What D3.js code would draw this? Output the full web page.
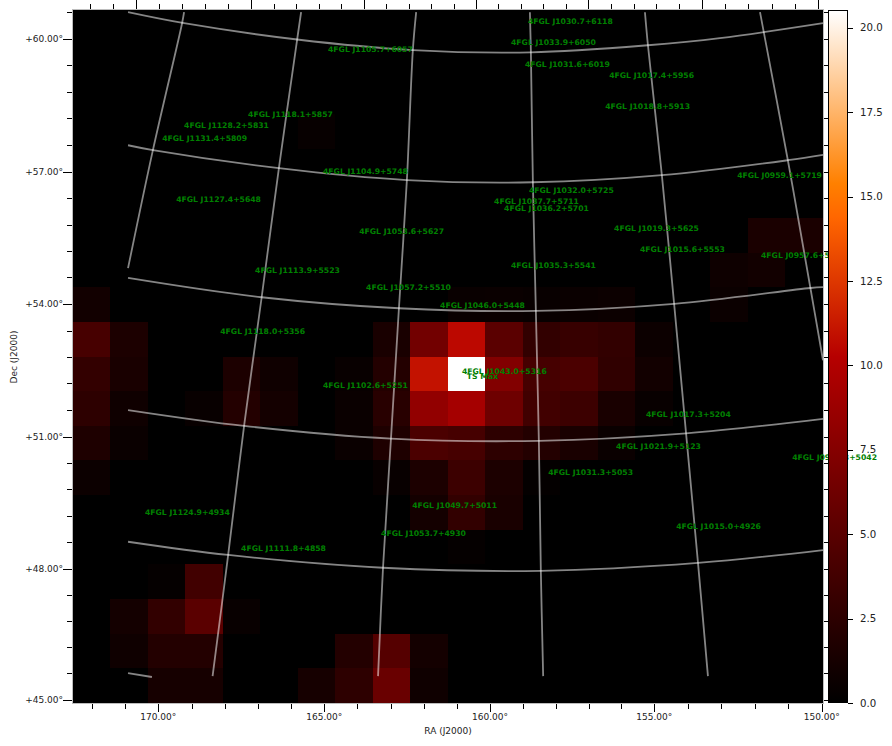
<!DOCTYPE html>
<html>
<head>
<meta charset="utf-8">
<script src="https://cdn.jsdelivr.net/npm/d3@7"></script>
<style>
html,body{margin:0;padding:0;background:#fff;}
svg{display:block;font-family:"DejaVu Sans",sans-serif;}
</style>
</head>
<body>
<div id="chart"></div>
<script>
// TS map, 20 x 20 pixels, listed top row first
const tsRows = [
 [0,0,0,0,0,0,0,0,0,0,0,0,0,0,0,0,0,0,0,0],
 [0,0,0,0,0,0,0,0,0,0,0,0,0,0,0,0,0,0,0,0],
 [0,0,0,0,0,0,0,0,0,0,0,0,0,0,0,0,0,0,0,0],
 [0,0,0,0,0,0,0.4,0,0,0,0,0,0,0,0,0,0,0,0,0],
 [0,0,0,0,0,0,0,0,0,0,0,0,0,0,0,0,0,0,0,0],
 [0,0,0,0,0,0,0,0,0,0,0,0,0,0,0,0,0,0,0,0],
 [0,0,0,0,0,0,0,0,0,0,0,0,0,0,0,0,0,0,1.45,1.45],
 [0,0,0,0,0,0,0,0,0,0,0,0,0,0,0,0,0,0.8,1.0,0],
 [1.0,0,0,0,0,0,0,0,0,0,0.5,0.55,0.45,0.55,0.7,0,0,0.6,0,0],
 [4.0,1.6,0,0,0,0,0,0,1.4,6.4,10.6,5.1,2.8,3.1,2.8,0.7,0,0,0,0],
 [2.9,1.4,0,0,1.6,0.85,0,0.45,2.0,11.0,20.53,7.3,3.95,4.25,2.7,1.0,0,0,0,0],
 [2.55,0.85,0,0.45,2.0,1.15,0,0.55,2.25,8.2,9.3,6.2,3.65,3.4,1.4,0.45,0,0,0,0],
 [1.7,0.55,0,0,0,0,0,0.55,1.7,4.2,3.95,2.55,2.0,1.4,0.55,0,0,0,0,0],
 [0.7,0,0,0,0,0,0,0,0.45,1.6,3.4,1.6,0.2,0,0,0,0,0,0,0],
 [0,0,0,0,0,0,0,0,0,1.1,2.8,1.4,0,0,0,0,0,0,0,0],
 [0,0,0,0,0,0,0,0,0,0,0.3,0,0,0,0,0,0,0,0,0],
 [0,0,0.3,3.65,0,0,0,0,0,0,0,0,0,0,0,0,0,0,0,0],
 [0,1.15,2.8,5.1,0.45,0,0,0,0,0,0,0,0,0,0,0,0,0,0,0],
 [0,0.85,2.0,2.0,0,0,0,2.0,4.8,1.15,0,0,0,0,0,0,0,0,0,0],
 [0,0,1.25,1.25,0,0,1.25,2.55,5.9,0.85,0,0,0,0,0,0,0,0,0,0]
];
const tsDomain = [0, 20.53];

// axis tick values
const raMajorTicks = [170,165,160,155,150];
const raMinorTicks = [172,171,169,168,167,166,164,163,162,161,159,158,157,156,154,153,152,151];
const topMajorTicks = [170,165,160,155,150,145,140];
const topMinorTicks = [172,171,169,168,167,166,164,163,162,161,159,158,157,156,154,153,152,151,149,148,147,146,144,143,142,141];
const decMajorTicks = [60,57,54,51,48,45];
const decMinorTicks = [60.6,59.4,58.8,58.2,57.6,56.4,55.8,55.2,54.6,53.4,52.8,52.2,51.6,50.4,49.8,49.2,48.6,47.4,46.8,46.2,45.6];
const cbarTicks = [0,2.5,5,7.5,10,12.5,15,17.5,20];

// curved sky grid in axis coordinates [RA, Dec]
const parallel60 = [[170.92,60.6],[169.23,60.35],[165.82,59.98],[162.33,59.74],[158.77,59.69],[155.24,59.85],[153.07,60.01],[149.96,60.35]];
const parallel57 = [[170.92,57.58],[170.17,57.47],[166.37,57.06],[162.51,56.79],[158.71,56.74],[154.82,56.9],[151.02,57.24],[149.96,57.36]];
const parallel54 = [[170.92,54.57],[166.89,54.13],[162.75,53.88],[158.62,53.82],[154.45,53.98],[150.34,54.34],[149.96,54.36]];
const parallel51 = [[170.92,51.57],[167.42,51.21],[162.99,50.92],[158.53,50.87],[154.09,51.04],[149.96,51.37]];
const parallel48 = [[170.92,48.58],[167.9,48.28],[163.23,47.99],[158.47,47.92],[153.73,48.1],[149.96,48.39]];
const parallel45 = [[170.92,45.6],[170.2,45.51]];
const meridian0 = [[169.23,60.6],[169.29,60.35],[170.17,57.47],[170.92,54.79]];
const meridian1 = [[165.7,60.6],[165.82,59.98],[166.37,57.06],[166.89,54.13],[167.42,51.21],[167.9,48.28],[168.37,45.53]];
const meridian2 = [[162.23,60.6],[162.33,59.74],[162.51,56.79],[162.75,53.88],[162.99,50.92],[163.23,47.99],[163.38,45.53]];
const meridian3 = [[158.8,60.6],[158.77,59.69],[158.71,56.74],[158.62,53.82],[158.53,50.87],[158.47,47.92],[158.4,45.53]];
const meridian4 = [[155.33,60.6],[155.24,59.85],[154.82,56.9],[154.45,53.98],[154.09,51.04],[153.73,48.1],[153.43,45.53]];
const meridian5 = [[151.86,60.6],[151.02,57.24],[150.34,54.34],[149.96,52.7]];
const gridLines = [parallel60,parallel57,parallel54,parallel51,parallel48,parallel45,
                   meridian0,meridian1,meridian2,meridian3,meridian4,meridian5];

// source labels
const sourceNames = ["4FGL J1030.7+6118","4FGL J1033.9+6050","4FGL J1105.7+6057","4FGL J1031.6+6019","4FGL J1017.4+5956","4FGL J1018.8+5913","4FGL J1118.1+5857","4FGL J1128.2+5831","4FGL J1131.4+5809","4FGL J1104.9+5748","4FGL J0959.1+5719","4FGL J1032.0+5725","4FGL J1127.4+5648","4FGL J1037.7+5711","4FGL J1036.2+5701","4FGL J1019.3+5625","4FGL J1053.6+5627","4FGL J1015.6+5553","4FGL J0957.6+5523","4FGL J1035.3+5541","4FGL J1113.9+5523","4FGL J1057.2+5510","4FGL J1046.0+5448","4FGL J1118.0+5356","4FGL J1043.0+5316","TS Max","4FGL J1102.6+5251","4FGL J1017.3+5204","4FGL J1021.9+5123","4FGL J0957.3+5042","4FGL J1031.3+5053","4FGL J1049.7+5011","4FGL J1124.9+4934","4FGL J1015.0+4926","4FGL J1053.7+4930","4FGL J1111.8+4858"];
const sourceRa = [157.58,158.09,163.61,157.67,155.13,155.25,166.02,167.95,168.61,163.76,151.27,157.55,168.19,158.6,158.3,154.98,162.67,154.2,150.55,158.09,165.81,162.46,160.23,166.86,159.57,160.23,163.76,154.02,154.92,149.61,156.97,161.07,169.13,153.11,162.01,166.23];
const sourceDec = [60.39,59.91,59.75,59.41,59.16,58.46,58.28,58.03,57.73,56.98,56.91,56.55,56.35,56.3,56.14,55.69,55.62,55.21,55.08,54.85,54.74,54.35,53.96,53.37,52.44,52.33,52.13,51.47,50.74,50.49,50.15,49.4,49.24,48.93,48.77,48.43];

const width = 892, height = 746;
const plot = {left:73, right:823, top:10, bottom:703};
const cbar = {left:828, right:848};

const x = d3.scaleLinear().domain([172.58,149.96]).range([plot.left,plot.right]);
const y = d3.scaleLinear().domain([60.65,44.92]).range([plot.top,plot.bottom]);
// the printed axes are slightly non-linear (world coordinates)
const xTick = d3.scaleLinear().domain(raMajorTicks).range([158.3,324.3,490,654.3,821.7]);
const yTick = d3.scaleLinear().domain(decMajorTicks).range([38.5,171.5,304,436.5,568.5,699.7]);
const xTop = d3.scaleLinear().domain(topMajorTicks).range([136,251,364,476,588,702,818]);
const col = d3.scaleBand().domain(d3.range(20)).range([plot.left-0.2,plot.right-0.2]);
const row = d3.scaleBand().domain(d3.range(20)).range([plot.top,plot.bottom]);
const yCbar = d3.scaleLinear().domain(tsDomain).range([plot.bottom,plot.top]);

function gistHeat(t){
  const c = d3.scaleLinear().domain([0,1]).range([0,255]).clamp(true);
  return d3.rgb(c(t/0.7), c(2*t-1), c(4*t-3)).formatRgb();
}
const color = d3.scaleSequential(gistHeat).domain(tsDomain);

const svg = d3.select("#chart").append("svg").attr("width",width).attr("height",height);

// black background and heat map
svg.append("rect").attr("x",plot.left).attr("y",plot.top)
   .attr("width",plot.right-plot.left).attr("height",plot.bottom-plot.top).attr("fill","#000");
const cells = tsRows.flatMap((r,i)=>r.map((v,j)=>({i,j,v}))).filter(d=>d.v>0);
svg.append("g").attr("shape-rendering","crispEdges").selectAll("rect").data(cells).join("rect")
   .attr("x",d=>col(d.j)).attr("y",d=>row(d.i))
   .attr("width",col.bandwidth()).attr("height",row.bandwidth())
   .attr("fill",d=>color(d.v));

// sky grid
const line = d3.line().x(d=>x(d[0])).y(d=>y(d[1])).curve(d3.curveCatmullRom);
svg.append("g").selectAll("path").data(gridLines).join("path")
   .attr("d",line).attr("fill","none").attr("stroke","#fff")
   .attr("stroke-opacity",0.52).attr("stroke-width",1.8);

// frame
svg.append("rect").attr("x",plot.left-0.5).attr("y",plot.top-0.5)
   .attr("width",plot.right-plot.left+1).attr("height",plot.bottom-plot.top+1)
   .attr("fill","none").attr("stroke","#bdbdbd").attr("stroke-width",1);

// ticks
const tickG = svg.append("g").attr("stroke","#000").attr("stroke-width",1);
function vTicks(vals,scale,y0,len){
  tickG.append("g").selectAll("line").data(vals).join("line")
    .attr("x1",d=>Math.round(scale(d))+0.5).attr("x2",d=>Math.round(scale(d))+0.5)
    .attr("y1",y0).attr("y2",y0+len);
}
function hTicks(vals,scale,x0,len){
  tickG.append("g").selectAll("line").data(vals).join("line")
    .attr("y1",d=>Math.round(scale(d))+0.5).attr("y2",d=>Math.round(scale(d))+0.5)
    .attr("x1",x0).attr("x2",x0+len);
}
vTicks(raMajorTicks,xTick,plot.bottom+1,8);
vTicks(raMinorTicks,xTick,plot.bottom+1,5);
vTicks(topMajorTicks,xTop,plot.top-1,-9);
vTicks(topMinorTicks,xTop,plot.top-1,-5);
hTicks(decMajorTicks,yTick,plot.left-1,-9);
hTicks(decMinorTicks,yTick,plot.left-1,-5);
hTicks(decMajorTicks,yTick,plot.right+1,9);
hTicks(decMinorTicks,yTick,plot.right+1,5);

// tick labels
svg.append("g").selectAll("text").data(raMajorTicks).join("text")
   .attr("x",d=>xTick(d)).attr("y",719.5).attr("text-anchor","middle")
   .attr("font-size",9).attr("fill","#222").text(d=>d.toFixed(2)+"°");
svg.append("g").selectAll("text").data(decMajorTicks).join("text")
   .attr("x",63).attr("y",d=>yTick(d)+3).attr("text-anchor","end")
   .attr("font-size",9).attr("fill","#222").text(d=>"+"+d.toFixed(2)+"°");

// axis titles
svg.append("text").attr("x",448).attr("y",734).attr("text-anchor","middle")
   .attr("font-size",9).attr("fill","#222").text("RA (J2000)");
svg.append("text").attr("transform","translate(17,357) rotate(-90)").attr("text-anchor","middle")
   .attr("font-size",9).attr("fill","#222").text("Dec (J2000)");

// source labels
svg.append("g").selectAll("text").data(sourceNames).join("text")
   .attr("x",(d,i)=>x(sourceRa[i])).attr("y",(d,i)=>y(sourceDec[i])+2.8)
   .attr("text-anchor","middle").attr("font-size",7.7).attr("font-weight","bold")
   .attr("fill","#008000").text(d=>d);

// colour bar, on top of the labels
const defs = svg.append("defs");
const grad = defs.append("linearGradient").attr("id","cmap").attr("x1",0).attr("x2",0).attr("y1",1).attr("y2",0);
grad.selectAll("stop").data([0,0.5,0.7,0.75,1]).join("stop")
    .attr("offset",d=>d).attr("stop-color",d=>gistHeat(d));
svg.append("rect").attr("x",cbar.left+0.5).attr("y",plot.top+0.5)
   .attr("width",cbar.right-cbar.left-1).attr("height",plot.bottom-plot.top-1)
   .attr("fill","url(#cmap)").attr("stroke","#000").attr("stroke-width",1);
const cbG = svg.append("g");
cbG.selectAll("line").data(cbarTicks).join("line")
   .attr("x1",cbar.right).attr("x2",cbar.right+5)
   .attr("y1",d=>Math.round(yCbar(d))+0.5).attr("y2",d=>Math.round(yCbar(d))+0.5)
   .attr("stroke","#000");
cbG.selectAll("text").data(cbarTicks).join("text")
   .attr("x",cbar.right+12).attr("y",d=>yCbar(d)+3.6)
   .attr("font-size",10.2).attr("fill","#222").text(d=>d.toFixed(1));
</script>
</body>
</html>
